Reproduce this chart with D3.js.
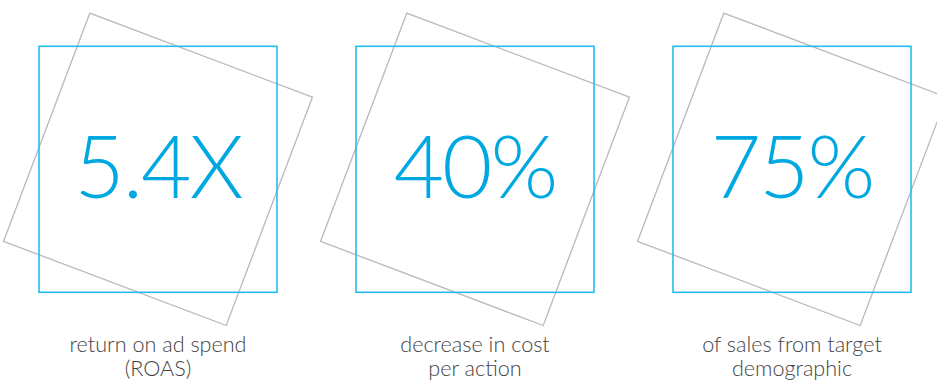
<!DOCTYPE html>
<html>
<head>
<meta charset="utf-8">
<script src="https://cdn.jsdelivr.net/npm/d3@7"></script>
<style>
  html, body { margin: 0; padding: 0; background: #fff; }
  svg { display: block; }
</style>
</head>
<body>
<svg id="chart" width="937" height="382"></svg>
<script>
const categories = ["roas", "cpa", "sales"];
const values = ["5.4X", "40%", "75%"];
const captionLine1 = ["return on ad spend", "decrease in cost", "of sales from target"];
const captionLine2 = ["(ROAS)", "per action", "demographic"];

const svg = d3.select("#chart");
const x = d3.scaleBand().domain(categories).range([0, 951]).padding(0);

const boxW = 238, boxH = 246, cy = 169.3;
const grayW = 238, grayH = 244, angle = 20.7;

const g = svg.selectAll("g.panel")
  .data(categories.map((c, i) => ({ c, v: values[i], l1: captionLine1[i], l2: captionLine2[i] })))
  .join("g")
  .attr("class", "panel")
  .attr("transform", d => `translate(${x(d.c) + x.bandwidth() / 2 - 0.5},0)`);

g.append("rect")
  .attr("x", -grayW / 2).attr("y", -grayH / 2)
  .attr("width", grayW).attr("height", grayH)
  .attr("transform", `translate(0,${cy}) rotate(${angle})`)
  .attr("fill", "none").attr("stroke", "#b9b9b9").attr("stroke-width", 1.3);

g.append("rect")
  .attr("x", -boxW / 2).attr("y", cy - boxH / 2)
  .attr("width", boxW).attr("height", boxH)
  .attr("fill", "none").attr("stroke", "#22bdf0").attr("stroke-width", 1.6);

g.append("text")
  .attr("x", 0).attr("y", 198)
  .attr("text-anchor", "middle")
  .attr("font-family", "Lato, 'Open Sans', sans-serif")
  .attr("font-weight", 300)
  .attr("font-size", 87)
  .attr("letter-spacing", -2)
  .attr("fill", "#00a8e1")
  .text(d => d.v);

const cap = (y, key) => g.append("text")
  .attr("x", 0).attr("y", y)
  .attr("text-anchor", "middle")
  .attr("font-family", "Lato, 'Open Sans', sans-serif")
  .attr("font-weight", 300)
  .attr("font-size", 21.6)
  .attr("fill", "#444")
  .text(d => d[key]);

cap(352, "l1");
cap(376, "l2");
</script>
</body>
</html>
